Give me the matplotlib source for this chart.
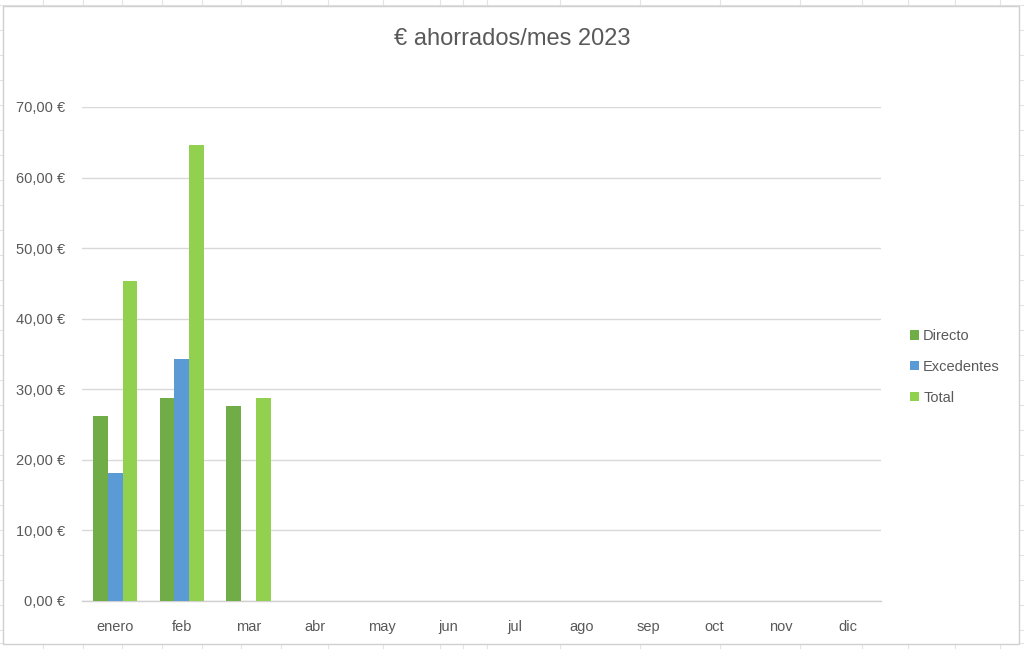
import matplotlib

matplotlib.use("Agg")
import matplotlib.pyplot as plt
import numpy as np
from matplotlib.patches import Rectangle
from matplotlib.lines import Line2D

plt.rcParams["font.family"] = ["Liberation Sans", "DejaVu Sans"]

months = ["enero", "feb", "mar", "abr", "may", "jun", "jul", "ago", "sep", "oct", "nov", "dic"]
directo = [26.2, 28.8, 27.6]
excedentes = [18.1, 34.3, 0.0]
total = [45.4, 64.6, 28.8]
series_names = ["Directo", "Excedentes", "Total"]
colors = ["#70AD47", "#5B9BD5", "#92D050"]
yticks = [0, 10, 20, 30, 40, 50, 60, 70]

TEXT = "#595959"

fig = plt.figure(figsize=(10.24, 6.49), dpi=100)

# spreadsheet cell lines behind the chart object
for x in [43, 83, 122, 162, 202, 241, 281, 328, 383, 440, 463, 487, 560, 640, 720, 800, 862, 908, 955, 1000]:
    fig.add_artist(Line2D([x / 1024, x / 1024], [0, 1], color="#E3E3E3", lw=0.8, zorder=0))
for y in [5, 30, 55, 80, 105, 130, 155, 180, 205, 230, 255, 280, 305, 330, 355, 380, 405, 430, 455, 480, 505, 530, 555, 580, 605, 630, 643]:
    fig.add_artist(Line2D([0, 1], [1 - y / 649, 1 - y / 649], color="#E3E3E3", lw=0.8, zorder=0))
fig.add_artist(Rectangle((3 / 1024, 1 - 644 / 649), 1016 / 1024, 638 / 649,
                         facecolor="white", edgecolor="#D0D0D0", lw=1.0, zorder=1))

ax = fig.add_axes([82 / 1024, 1 - 601 / 649, 799 / 1024, 494 / 649], zorder=2)
ax.set_facecolor("none")

x = np.arange(len(months))
w = 1 / 4.5
for i, (vals, name, c) in enumerate(zip([directo, excedentes, total], series_names, colors)):
    xs = x[: len(vals)] + (i - 1) * w
    ax.bar(xs, vals, width=w, color=c, label=name, zorder=3)

ax.set_xlim(-0.5, len(months) - 0.5)
ax.set_ylim(0, 70)
ax.set_yticks(yticks)
ax.set_yticklabels([f"{v:.2f} €".replace(".", ",") for v in yticks])
ax.set_xticks(x)
ax.set_xticklabels(months)
ax.yaxis.grid(True, color="#D9D9D9", lw=1.0, zorder=0)
ax.set_axisbelow(True)
for s in ["top", "right", "left"]:
    ax.spines[s].set_visible(False)
ax.spines["bottom"].set_color("#D0D0D0")
ax.spines["bottom"].set_linewidth(1.0)
ax.tick_params(axis="both", length=0, colors=TEXT, labelsize=10.5)
ax.tick_params(axis="x", pad=14)
ax.tick_params(axis="y", pad=12)

fig.text(0.5, 1 - 39 / 649, "€ ahorrados/mes 2023", ha="center", va="center",
         fontsize=17, color=TEXT)

ax.legend(loc="center left", bbox_to_anchor=(1.02, 0.474), frameon=False,
          fontsize=10.5, labelcolor=TEXT, handlelength=0.6, handleheight=0.6,
          handletextpad=0.3, labelspacing=1.15)

fig.savefig("out.png", dpi=100)
